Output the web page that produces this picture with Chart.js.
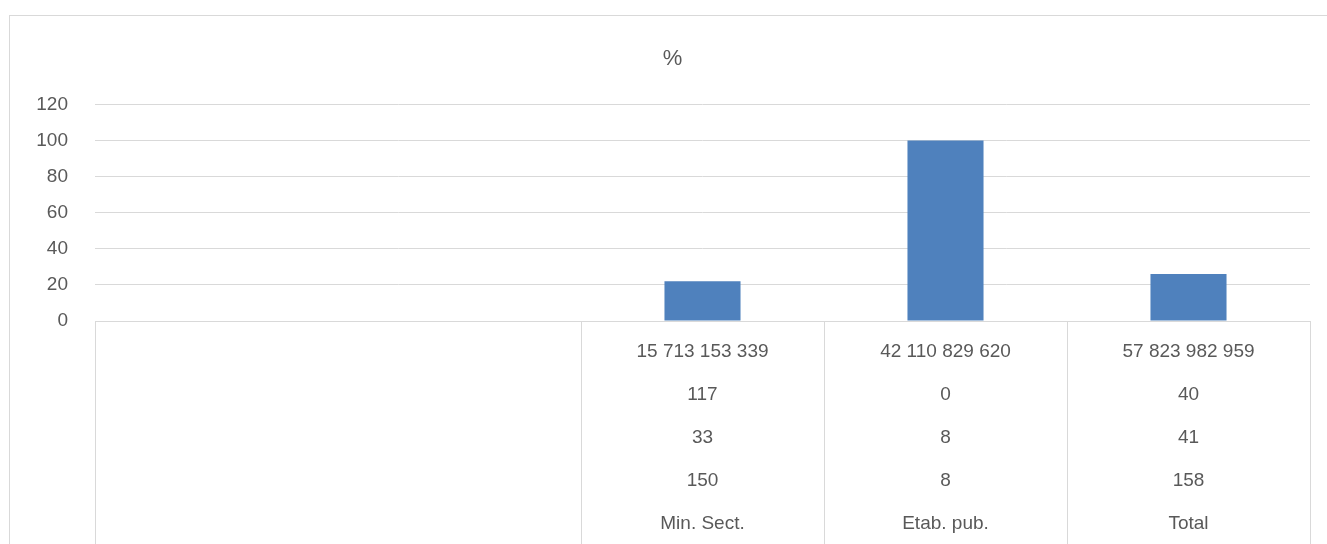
<!DOCTYPE html>
<html>
<head>
<meta charset="utf-8">
<script src="https://cdn.jsdelivr.net/npm/chart.js@4/dist/chart.umd.min.js"></script>
<style>
  html, body { margin: 0; padding: 0; background: #fff; overflow: hidden; }
  #frame { position: absolute; left: 9px; top: 15px; width: 1400px; height: 600px; border: 1px solid #d9d9d9; pointer-events: none; }
  canvas { position: absolute; left: 0; top: 0; }
</style>
</head>
<body>
<canvas id="pctChart" width="1327" height="544"></canvas>
<div id="frame"></div>
<script>
// multi-level category rows (top row first), first two slots are blank
const amounts = ['', '', '15 713 153 339', '42 110 829 620', '57 823 982 959'];
const row2 = ['', '', '117', '0', '40'];
const row3 = ['', '', '33', '8', '41'];
const row4 = ['', '', '150', '8', '158'];
const groups = ['', '', 'Min. Sect.', 'Etab. pub.', 'Total'];

// bar values (%)
const pct = [null, null, 22, 100, 26];

// y axis ticks
const yMin = 0;
const yMax = 120;
const yStep = 20;

const labels = groups.map((g, i) => [amounts[i], row2[i], row3[i], row4[i], g]);

const textColor = '#595959';
const lineColor = '#d9d9d9';

new Chart(document.getElementById('pctChart').getContext('2d'), {
  type: 'bar',
  data: {
    labels: labels,
    datasets: [{
      label: '%',
      data: pct,
      backgroundColor: '#4f81bd',
      borderWidth: 0,
      barPercentage: 0.313,
      categoryPercentage: 1
    }]
  },
  options: {
    responsive: false,
    animation: false,
    layout: { padding: { left: 35, right: 17, top: 20, bottom: 0 } },
    plugins: {
      legend: { display: false },
      tooltip: { enabled: false },
      title: {
        display: true,
        text: '%',
        color: textColor,
        font: { family: 'Liberation Sans', size: 22, weight: 'normal', lineHeight: 1.2 },
        padding: { top: 26, bottom: 32 }
      }
    },
    scales: {
      x: {
        offset: true,
        afterFit: s => { s.height = 223; },
        border: { display: true, color: lineColor, width: 1 },
        grid: {
          offset: true,
          drawOnChartArea: false,
          drawTicks: true,
          tickLength: 223,
          lineWidth: 1,
          color: ctx => ctx.index === 1 ? 'rgba(0,0,0,0)' : lineColor
        },
        ticks: {
          autoSkip: false,
          maxRotation: 0,
          padding: -213.5,
          color: textColor,
          font: { family: 'Liberation Sans', size: 19, lineHeight: 2.26 }
        }
      },
      y: {
        min: yMin,
        max: yMax,
        afterFit: s => { s.width = 60; },
        border: { display: false },
        grid: { color: lineColor, lineWidth: 1, drawTicks: false },
        ticks: {
          stepSize: yStep,
          padding: 27,
          color: textColor,
          font: { family: 'Liberation Sans', size: 19 }
        }
      }
    }
  }
});
</script>
</body>
</html>
